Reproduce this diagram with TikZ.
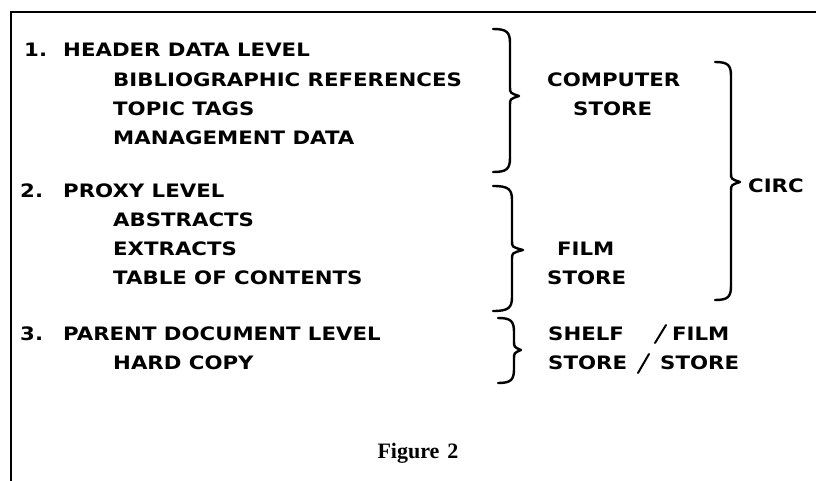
\documentclass[tikz,border=0pt]{standalone}
\usepackage{fontspec}
\setmainfont{Liberation Serif}
\newfontfamily\capsfont[FakeStretch=1.15]{DejaVu Sans}
\newcommand{\curlybr}[6]{% xl xs xt ytop ymid ybot
  \draw[bracestroke] (#1,#4) .. controls ({#1+0.8*(#2-#1)},#4) and (#2,{#4+3}) .. (#2,{#4+14})
    -- (#2,{#5-9}) .. controls (#2,{#5-3}) .. (#3,#5)
    .. controls (#2,{#5+3}) .. (#2,{#5+9})
    -- (#2,{#6-14}) .. controls (#2,{#6-3}) and ({#1+0.8*(#2-#1)},#6) .. (#1,#6);}
\tikzset{
  lbl/.style={font=\capsfont\bfseries\fontsize{18.5}{20}\selectfont, inner sep=0pt, anchor=west},
  figlbl/.style={font=\bfseries\fontsize{22}{24}\selectfont, inner sep=0pt},
  bracestroke/.style={line width=2.4pt, line cap=round, line join=round},
  frameline/.style={line width=2.6pt},
  slashline/.style={line width=2pt, line cap=round}
}
\begin{document}
\begin{tikzpicture}[x=1pt,y=-1pt]
\useasboundingbox (0,0) rectangle (816,481);
% frame
\coordinate (fbl) at (11,481);
\coordinate (ftl) at (11,12);
\coordinate (ftr) at (816,12);
\draw[frameline] (fbl) -- (ftl) -- (ftr);
% left column
\node[lbl] (n1) at (24,50) {1.};
\node[lbl] (h1) at (63,50) {HEADER DATA LEVEL};
\node[lbl] (s11) at (113,80) {BIBLIOGRAPHIC REFERENCES};
\node[lbl] (s12) at (113,109) {TOPIC TAGS};
\node[lbl] (s13) at (113,138) {MANAGEMENT DATA};
\node[lbl] (n2) at (20,191) {2.};
\node[lbl] (h2) at (63,191) {PROXY LEVEL};
\node[lbl] (s21) at (113,220) {ABSTRACTS};
\node[lbl] (s22) at (113,249) {EXTRACTS};
\node[lbl] (s23) at (113,278) {TABLE OF CONTENTS};
\node[lbl] (n3) at (20,334) {3.};
\node[lbl] (h3) at (63,334) {PARENT DOCUMENT LEVEL};
\node[lbl] (s31) at (113,363) {HARD COPY};
% braces
\curlybr{493}{510}{519}{29}{96}{172}
\curlybr{493}{512}{523}{186}{250}{311}
\curlybr{498}{514}{521}{318}{350}{383}
\curlybr{715}{731}{740}{62}{182}{300}
% right column
\node[lbl] (c1) at (547,80) {COMPUTER};
\node[lbl] (c2) at (573,109) {STORE};
\node[lbl] (f1) at (557,249) {FILM};
\node[lbl] (f2) at (547,278) {STORE};
\node[lbl] (circ) at (748,186) {CIRC};
\node[lbl] (sh1) at (548,334) {SHELF};
\node[lbl] (sh2) at (548,363) {STORE};
\node[lbl] (fm1) at (672,334) {FILM};
\node[lbl] (fm2) at (660,363) {STORE};
\coordinate (sa1) at (655,343);
\coordinate (sa2) at (666,325);
\coordinate (sb1) at (638,373);
\coordinate (sb2) at (649,354);
\draw[slashline] (sa1) -- (sa2);
\draw[slashline] (sb1) -- (sb2);
% caption
\node[figlbl] (fig) at (418,453) {Figure\hspace{8pt}2};
\end{tikzpicture}
\end{document}
